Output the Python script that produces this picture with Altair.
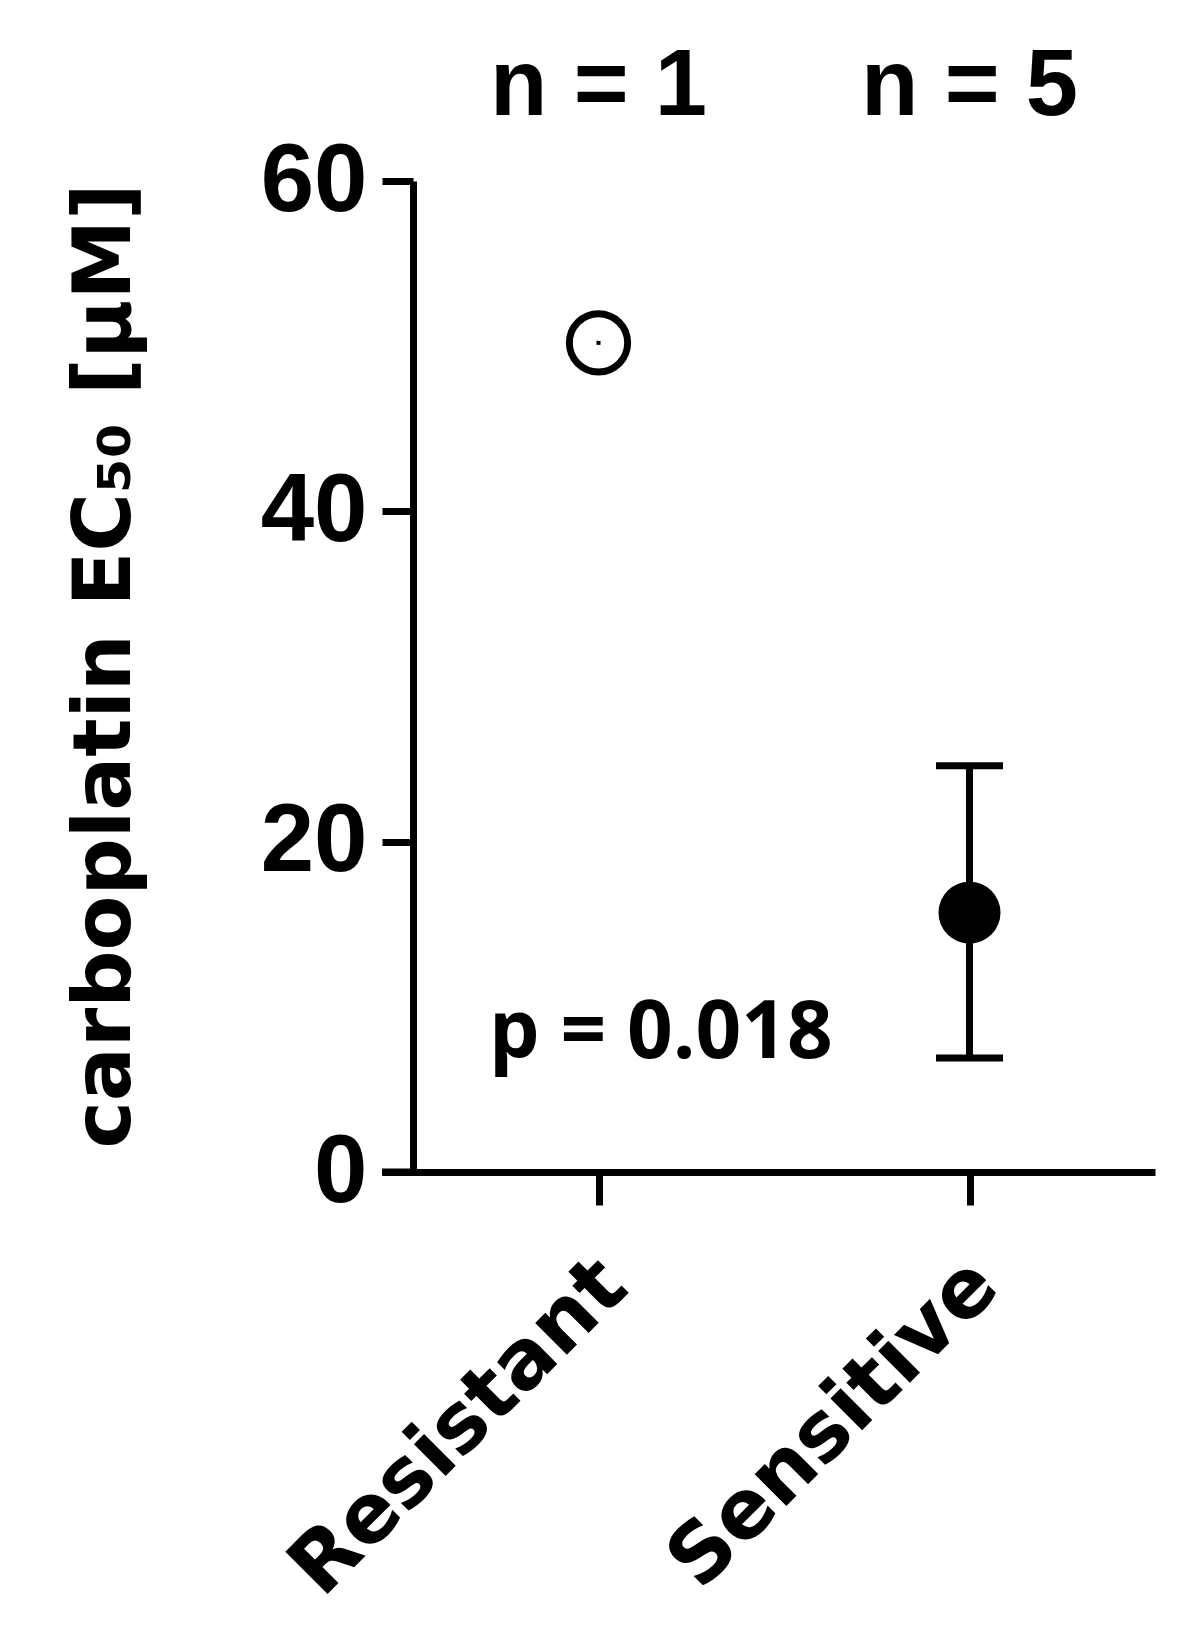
import altair as alt
import pandas as pd

# ---- data ----
groups = ["Resistant", "Sensitive"]
means = [50.2, 15.7]
err_low = [None, 6.9]
err_high = [None, 24.6]
filled = [False, True]
n_labels = ["n = 1", "n = 5"]
y_ticks = [0, 20, 40, 60]
p_label = ["p = 0.018"]
y_title = ["carboplatin EC₅₀ [µM]"]

df = pd.DataFrame({"group": groups, "mean": means, "lo": err_low,
                   "hi": err_high, "filled": filled, "n": n_labels})
df_err = df[df["lo"].notna()].copy()
df_open = df[~df["filled"]].copy()
df_fill = df[df["filled"]].copy()

W, H = 742, 991
BLACK = "#000000"
LW = 7

xscale = alt.Scale(type="point", domain=groups, padding=0.5)
yscale = alt.Scale(domain=[0, 60], nice=False, zero=True)

xaxis = alt.Axis(title=None, labelAngle=-45, labelAlign="right", labelBaseline="top",
                 labelFont="DejaVu Sans", labelFontWeight="bold", labelFontSize=82,
                 labelColor=BLACK, labelPadding=39, labelOffset=-14, labelLimit=2000,
                 labelOverlap=False,
                 tickSize=33, tickWidth=LW, tickColor=BLACK,
                 domainWidth=LW, domainColor=BLACK, grid=False)
yaxis = alt.Axis(title=None, values=y_ticks, labelFont="Liberation Sans",
                 labelFontWeight="bold", labelFontSize=96, labelColor=BLACK,
                 labelPadding=15, tickSize=31, tickWidth=LW, tickColor=BLACK,
                 domainWidth=LW, domainColor=BLACK, grid=False)

X = alt.X("group:N", scale=xscale, axis=xaxis)

def Y(field):
    return alt.Y(f"{field}:Q", scale=yscale, axis=yaxis)

err_rule = alt.Chart(df_err).mark_rule(strokeWidth=LW, color=BLACK, opacity=1).encode(
    x=X, y=Y("lo"), y2="hi:Q")
cap_lo = alt.Chart(df_err).mark_tick(orient="horizontal", size=67, thickness=LW,
                                     color=BLACK, opacity=1).encode(x=X, y=Y("lo"))
cap_hi = alt.Chart(df_err).mark_tick(orient="horizontal", size=67, thickness=LW,
                                     color=BLACK, opacity=1).encode(x=X, y=Y("hi"))
open_pt = alt.Chart(df_open).mark_point(shape="circle", filled=False, size=3400,
                                        strokeWidth=LW, color=BLACK, opacity=1).encode(
    x=X, y=Y("mean"))
open_dot = alt.Chart(df_open).mark_point(shape="square", filled=True, size=16,
                                         color=BLACK, opacity=1).encode(x=X, y=Y("mean"))
fill_pt = alt.Chart(df_fill).mark_point(shape="circle", filled=True, size=3844,
                                        color=BLACK, opacity=1).encode(x=X, y=Y("mean"))

n_text = alt.Chart(df).mark_text(font="Liberation Sans", fontWeight="bold", fontSize=94,
                                 align="center", baseline="alphabetic",
                                 color=BLACK).encode(
    x=X, y=alt.value(-66), text="n:N")

p_text = alt.Chart(pd.DataFrame({"t": p_label})).mark_text(
    font="Open Sans", fontWeight="bold", fontSize=80, align="left",
    baseline="alphabetic", color=BLACK).encode(
    x=alt.value(76), y=alt.value(877), text="t:N")

title_text = alt.Chart(pd.DataFrame({"t": y_title})).mark_text(
    font="DejaVu Sans", fontWeight="bold", fontSize=80, angle=270, align="center",
    baseline="alphabetic", color=BLACK).encode(
    x=alt.value(-283), y=alt.value(485), text="t:N")

x_ext = alt.Chart(pd.DataFrame({"a": [0]})).mark_rule(strokeWidth=LW, color=BLACK).encode(
    x=alt.value(-31), x2=alt.value(3), y=alt.value(H))

chart = alt.layer(err_rule, cap_lo, cap_hi, fill_pt, open_pt, open_dot,
                  n_text, p_text, title_text, x_ext).properties(
    width=W, height=H,
    autosize=alt.AutoSizeParams(type="none"),
    padding={"left": 405, "top": 173, "right": 32, "bottom": 450},
    background="white",
).configure_view(stroke=None)

chart.save("out.html", embed_options={"renderer": "svg", "actions": False})
